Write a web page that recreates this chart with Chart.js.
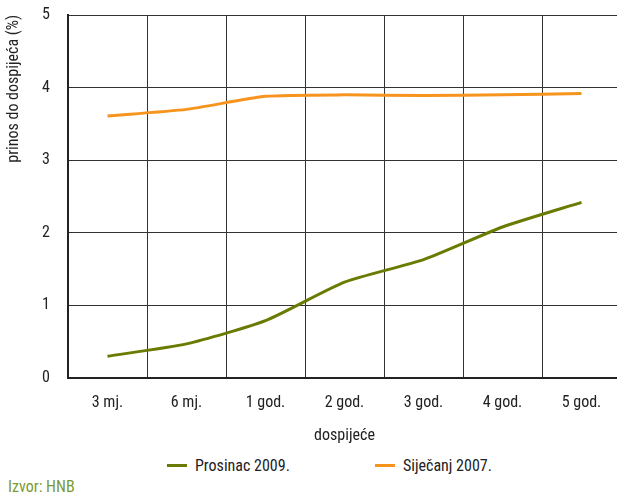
<!DOCTYPE html>
<html>
<head>
<meta charset="utf-8">
<script src="https://cdn.jsdelivr.net/npm/chart.js@4/dist/chart.umd.min.js"></script>
<style>
  html, body { margin: 0; padding: 0; background: #fff; overflow: hidden; }
  #wrap { position: relative; width: 617px; height: 495px; overflow: hidden; font-family: "Roboto Condensed", sans-serif; }
  #c { position: absolute; left: 0; top: 0; }
  #legend { position: absolute; top: 456px; left: 0; width: 617px; height: 20px; font-size: 16px; color: #222; }
  .item { position: absolute; top: 0; display: flex; align-items: center; }
  .swatch { width: 20px; height: 3px; margin-right: 8px; }
  #izvor { position: absolute; left: 8px; top: 477px; font-size: 16px; color: #7c9a32; }
</style>
</head>
<body>
<div id="wrap">
  <canvas id="c" width="621" height="450"></canvas>
  <div id="legend"></div>
  <div id="izvor">Izvor: HNB</div>
</div>
<script>
const categories = ['3 mj.', '6 mj.', '1 god.', '2 god.', '3 god.', '4 god.', '5 god.'];
const prosinac2009 = [0.30, 0.47, 0.79, 1.32, 1.63, 2.08, 2.42];
const sijecanj2007 = [3.61, 3.70, 3.88, 3.90, 3.89, 3.90, 3.92];
const seriesNames = ['Prosinac 2009.', 'Siječanj 2007.'];
const seriesColors = ['#6b7a00', '#f7941d'];

const fontFam = '"Roboto Condensed", sans-serif';

const ctx = document.getElementById('c').getContext('2d');
new Chart(ctx, {
  type: 'line',
  data: {
    labels: categories,
    datasets: [
      { label: seriesNames[0], data: prosinac2009, borderColor: seriesColors[0], backgroundColor: seriesColors[0], borderWidth: 3, pointRadius: 0, tension: 0.2 },
      { label: seriesNames[1], data: sijecanj2007, borderColor: seriesColors[1], backgroundColor: seriesColors[1], borderWidth: 3, pointRadius: 0, tension: 0.2 }
    ]
  },
  options: {
    responsive: false,
    animation: false,
    layout: { padding: { top: 15, right: 0, bottom: 0, left: 0 } },
    plugins: { legend: { display: false }, tooltip: { enabled: false } },
    scales: {
      x: {
        offset: true,
        grid: { offset: true, color: '#333', lineWidth: 1, drawTicks: false },
        border: { color: '#222', width: 2 },
        ticks: { color: '#222', font: { family: fontFam, size: 16 }, padding: 15 },
        title: { display: true, text: 'dospijeće', color: '#222', font: { family: fontFam, size: 16 }, padding: { top: 17 } },
        afterFit: s => { s.height = 72; }
      },
      y: {
        min: 0, max: 5,
        grid: { color: '#333', lineWidth: 1, drawTicks: false },
        border: { color: '#222', width: 2 },
        ticks: { stepSize: 1, color: '#222', font: { family: fontFam, size: 16 }, padding: 18 },
        title: { display: true, text: 'prinos do dospijeća (%)', align: 'end', color: '#222', font: { family: fontFam, size: 16 }, padding: { bottom: 10 } },
        afterFit: s => { s.width = 68; s.paddingTop = 0; s.paddingBottom = 0; }
      }
    }
  }
});

// legend below the chart
const legend = document.getElementById('legend');
const legendX = [167, 375];
seriesNames.forEach((n, i) => {
  const d = document.createElement('div');
  d.className = 'item';
  d.style.left = legendX[i] + 'px';
  d.innerHTML = '<span class="swatch" style="background:' + seriesColors[i] + '"></span><span>' + n + '</span>';
  legend.appendChild(d);
});
</script>
</body>
</html>
